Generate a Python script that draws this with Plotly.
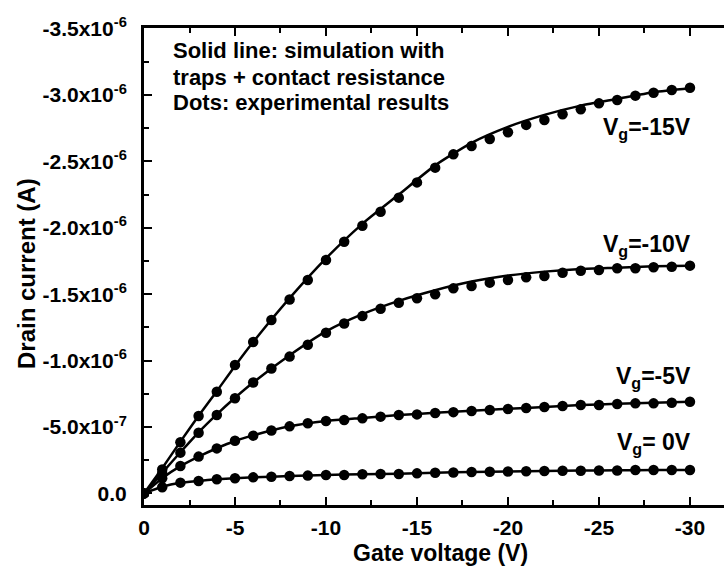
import plotly.graph_objects as go

# ---------------- data (drain current magnitudes in microamps) ----------------
gate_exp = [0, -1, -2, -3, -4, -5, -6, -7, -8, -9, -10, -11, -12, -13, -14, -15,
            -16, -17, -18, -19, -20, -21, -22, -23, -24, -25, -26, -27, -28, -29, -30]

exp_m15 = [0, 0.18, 0.385, 0.583, 0.766, 0.967, 1.14, 1.306, 1.46, 1.607, 1.757,
           1.895, 2.016, 2.121, 2.227, 2.342, 2.453, 2.553, 2.616, 2.669, 2.719,
           2.775, 2.812, 2.855, 2.892, 2.937, 2.962, 2.995, 3.017, 3.038, 3.055]
exp_m10 = [0, 0.151, 0.307, 0.457, 0.59, 0.716, 0.835, 0.94, 1.03, 1.12, 1.21,
           1.28, 1.335, 1.39, 1.436, 1.469, 1.499, 1.544, 1.562, 1.587, 1.607,
           1.627, 1.637, 1.662, 1.677, 1.682, 1.695, 1.695, 1.703, 1.707, 1.715]
exp_m5 = [0, 0.114, 0.206, 0.277, 0.339, 0.396, 0.435, 0.474, 0.505, 0.528, 0.545,
          0.553, 0.565, 0.578, 0.59, 0.595, 0.605, 0.612, 0.62, 0.628, 0.636,
          0.643, 0.65, 0.658, 0.666, 0.666, 0.673, 0.678, 0.678, 0.683, 0.69]
exp_0 = [0, 0.046, 0.081, 0.093, 0.106, 0.114, 0.121, 0.126, 0.131, 0.134, 0.139,
         0.139, 0.144, 0.146, 0.146, 0.151, 0.155, 0.158, 0.161, 0.163, 0.165,
         0.167, 0.169, 0.171, 0.171, 0.173, 0.173, 0.176, 0.176, 0.176, 0.176]

gate_sim = [0, -1, -2, -3, -4, -5, -6, -8, -10, -12, -14, -16, -18, -20, -22, -24, -26, -28, -30]
sim_m15 = [0, 0.19, 0.39, 0.585, 0.77, 0.96, 1.14, 1.47, 1.77, 2.03, 2.25, 2.47, 2.64,
           2.76, 2.85, 2.92, 2.97, 3.02, 3.05]
sim_m10 = [0, 0.155, 0.31, 0.46, 0.595, 0.72, 0.835, 1.04, 1.22, 1.35, 1.45, 1.53, 1.595,
           1.64, 1.67, 1.69, 1.70, 1.71, 1.715]
sim_m5 = [0, 0.115, 0.205, 0.277, 0.34, 0.395, 0.437, 0.505, 0.545, 0.568, 0.59, 0.607,
          0.622, 0.637, 0.65, 0.665, 0.675, 0.682, 0.69]
sim_0 = [0, 0.05, 0.08, 0.094, 0.106, 0.114, 0.121, 0.131, 0.139, 0.144, 0.148, 0.156,
         0.161, 0.165, 0.169, 0.172, 0.174, 0.176, 0.177]

series_labels = ["V<sub>g</sub>=-15V", "V<sub>g</sub>=-10V", "V<sub>g</sub>=-5V", "V<sub>g</sub>= 0V"]
label_pos_uA = [2.774, 1.893, 0.892, 0.402]

x_tickvals = [0, -5, -10, -15, -20, -25, -30]
x_ticktext = ["0", "-5", "-10", "-15", "-20", "-25", "-30"]
y_tickvals_uA = [0, 0.5, 1.0, 1.5, 2.0, 2.5, 3.0, 3.5]
y_ticktext = ["0.0", "-5.0x10<sup>-7</sup>", "-1.0x10<sup>-6</sup>", "-1.5x10<sup>-6</sup>",
              "-2.0x10<sup>-6</sup>", "-2.5x10<sup>-6</sup>", "-3.0x10<sup>-6</sup>",
              "-3.5x10<sup>-6</sup>"]

note_lines = ["Solid line: simulation with", "traps + contact resistance",
              "Dots: experimental results"]

UA = 1e-6
def to_amp(vals):
    return [-v * UA for v in vals]

FONT = "Liberation Sans, Arial, Helvetica, sans-serif"

fig = go.Figure()
for exp_vals, sim_vals in [(exp_m15, sim_m15), (exp_m10, sim_m10), (exp_m5, sim_m5), (exp_0, sim_0)]:
    fig.add_trace(go.Scatter(x=gate_sim, y=to_amp(sim_vals), mode="lines",
                             line=dict(color="black", width=2.5, shape="spline", smoothing=0.6),
                             showlegend=False, hoverinfo="skip"))
    fig.add_trace(go.Scatter(x=gate_exp, y=to_amp(exp_vals), mode="markers",
                             marker=dict(color="black", size=10.5),
                             showlegend=False))

for txt, yv in zip(series_labels, label_pos_uA):
    fig.add_annotation(x=-30, y=-yv * UA, xref="x", yref="y", text=txt, showarrow=False,
                       xanchor="right", yanchor="middle", xshift=3, yshift=-3,
                       font=dict(family=FONT, size=23, color="black", weight="bold"))

# note block (positions in pixels converted to paper coords)
L, R, T, B = 144, 724, 28, 505
def px_to_paper(px, py):
    return (px - L) / (R - L), (B - py) / (B - T)

for i, line in enumerate(note_lines):
    xp, yp = px_to_paper(171, 51 + i * 26)
    fig.add_annotation(x=xp, y=yp, xref="paper", yref="paper", text=line, showarrow=False,
                       xanchor="left", yanchor="middle",
                       font=dict(family=FONT, size=22, color="black", weight="bold"))

xp, yp = px_to_paper(440, 553)
fig.add_annotation(x=xp, y=yp, xref="paper", yref="paper", text="Gate voltage (V)",
                   showarrow=False, xanchor="center", yanchor="middle",
                   font=dict(family=FONT, size=23, color="black", weight="bold"))
xp, yp = px_to_paper(26, 274)
fig.add_annotation(x=xp, y=yp, xref="paper", yref="paper", text="Drain current (A)",
                   showarrow=False, xanchor="center", yanchor="middle", textangle=-90,
                   font=dict(family=FONT, size=24, color="black", weight="bold"))

fig.update_layout(
    width=724, height=569,
    margin=dict(l=L, r=724 - R, t=T, b=569 - B),
    plot_bgcolor="white", paper_bgcolor="white",
    xaxis=dict(range=[0, -31.87], tickmode="array", tickvals=x_tickvals, ticktext=x_ticktext,
               showgrid=False, zeroline=False, showline=True, linecolor="black", linewidth=3,
               mirror="ticks", ticks="inside", ticklen=8, tickwidth=2, tickcolor="black",
               minor=dict(ticks="inside", ticklen=5, tickwidth=2, tickcolor="black",
                          tickvals=[-2.5, -7.5, -12.5, -17.5, -22.5, -27.5]),
               tickfont=dict(family=FONT, size=21, color="black", weight="bold"),
               ticklabelstandoff=2),
    yaxis=dict(range=[0.0873e-6, -3.5045e-6], tickmode="array",
               tickvals=[-v * UA for v in y_tickvals_uA], ticktext=y_ticktext,
               showgrid=False, zeroline=False, showline=True, linecolor="black", linewidth=3,
               mirror=False, ticks="inside", ticklen=8, tickwidth=2, tickcolor="black",
               minor=dict(ticks="inside", ticklen=5, tickwidth=2, tickcolor="black",
                          tickvals=[-0.25e-6, -0.75e-6, -1.25e-6, -1.75e-6, -2.25e-6,
                                    -2.75e-6, -3.25e-6]),
               tickfont=dict(family=FONT, size=21, color="black", weight="bold"),
               ticklabelstandoff=10),
)

fig.write_html("out.html")
